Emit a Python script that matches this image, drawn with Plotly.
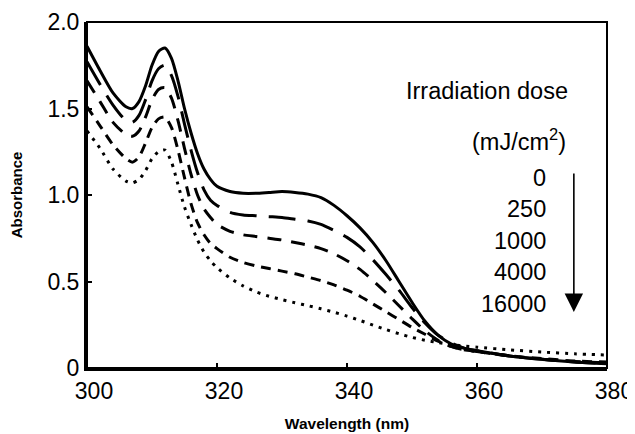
import plotly.graph_objects as go

wavelength = [300, 302, 304, 306, 307, 308, 309, 310, 311, 312, 313, 314, 315, 316, 317, 318, 319, 320,
              322, 324, 326, 328, 330, 332, 334, 336, 338, 340, 342, 344, 346, 348, 350, 352, 354, 356,
              358, 360, 365, 370, 375, 380]

abs_0 = [1.86, 1.72, 1.59, 1.51, 1.50, 1.54, 1.63, 1.75, 1.83, 1.85, 1.79, 1.66, 1.50, 1.36, 1.24, 1.15, 1.09, 1.05,
         1.02, 1.01, 1.01, 1.015, 1.02, 1.015, 1.005, 0.985, 0.94, 0.88, 0.81, 0.725, 0.62, 0.50, 0.38, 0.27, 0.19, 0.14,
         0.115, 0.10, 0.07, 0.05, 0.035, 0.025]
abs_250 = [1.77, 1.64, 1.52, 1.43, 1.42, 1.46, 1.55, 1.66, 1.73, 1.75, 1.69, 1.57, 1.41, 1.26, 1.13, 1.03, 0.97, 0.94,
           0.90, 0.885, 0.88, 0.875, 0.87, 0.86, 0.85, 0.83, 0.795, 0.755, 0.70, 0.625, 0.54, 0.45, 0.35, 0.26, 0.19, 0.145,
           0.115, 0.10, 0.07, 0.05, 0.035, 0.025]
abs_1000 = [1.66, 1.54, 1.42, 1.35, 1.34, 1.37, 1.45, 1.55, 1.61, 1.62, 1.56, 1.43, 1.27, 1.12, 1.00, 0.92, 0.87, 0.83,
            0.79, 0.77, 0.76, 0.75, 0.74, 0.725, 0.71, 0.69, 0.66, 0.62, 0.57, 0.505, 0.435, 0.36, 0.285, 0.215, 0.16, 0.125,
            0.105, 0.095, 0.07, 0.05, 0.038, 0.03]
abs_4000 = [1.51, 1.40, 1.29, 1.21, 1.19, 1.22, 1.30, 1.39, 1.44, 1.45, 1.39, 1.26, 1.10, 0.95, 0.84, 0.77, 0.72, 0.69,
            0.64, 0.61, 0.59, 0.575, 0.56, 0.545, 0.525, 0.505, 0.48, 0.45, 0.415, 0.37, 0.325, 0.28, 0.235, 0.195, 0.155, 0.125,
            0.105, 0.095, 0.07, 0.055, 0.04, 0.035]
abs_16000 = [1.37, 1.27, 1.15, 1.08, 1.07, 1.09, 1.14, 1.21, 1.25, 1.26, 1.19, 1.06, 0.93, 0.83, 0.74, 0.67, 0.62, 0.58,
             0.52, 0.475, 0.44, 0.415, 0.395, 0.377, 0.36, 0.342, 0.322, 0.30, 0.275, 0.248, 0.222, 0.198, 0.177, 0.16, 0.147, 0.136,
             0.127, 0.12, 0.105, 0.092, 0.082, 0.075]

doses = ["0", "250", "1000", "4000", "16000"]
series = [abs_0, abs_250, abs_1000, abs_4000, abs_16000]
dash_styles = ["solid", "27px,12px", "14px,10px", "10px,7px", "3px,6px"]

x_ticks = [300, 320, 340, 360, 380]
y_ticks = [0, 0.5, 1.0, 1.5, 2.0]
y_ticktext = ["0", "0.5", "1.0", "1.5", "2.0"]

FONT = "Liberation Sans, Arial, sans-serif"
TXT = 23.5

fig = go.Figure()
for name, vals, dash in zip(doses, series, dash_styles):
    fig.add_trace(go.Scatter(x=wavelength, y=vals, mode="lines", name=name,
                             line=dict(color="black", width=3, dash=dash, shape="spline", smoothing=0.7)))

# legend-like annotations
fig.add_annotation(x=374.3, y=1.60, xref="x", yref="y", text="Irradiation dose", showarrow=False,
                   xanchor="right", yanchor="middle", font=dict(size=TXT, color="black", family=FONT))
fig.add_annotation(x=374.0, y=1.318, xref="x", yref="y", text="(mJ/cm<sup>2</sup>)", showarrow=False,
                   xanchor="right", yanchor="middle", font=dict(size=TXT, color="black", family=FONT))
label_y = [1.098, 0.919, 0.734, 0.555, 0.370]
for d, yy in zip(doses, label_y):
    fig.add_annotation(x=370.9, y=yy, xref="x", yref="y", text=d, showarrow=False,
                       xanchor="right", yanchor="middle", font=dict(size=TXT, color="black", family=FONT))
fig.add_annotation(x=374.9, y=0.324, xref="x", yref="y", ax=374.9, ay=1.133, axref="x", ayref="y",
                   text="", showarrow=True, arrowhead=2, arrowsize=2.3, arrowwidth=1.6, arrowcolor="black")

# frame
fig.add_shape(type="rect", xref="x domain", yref="y domain", x0=0, x1=1, y0=0, y1=1,
              line=dict(color="black", width=2))

fig.update_xaxes(range=[300, 380], tickvals=x_ticks, ticks="inside", ticklen=5, tickwidth=2, tickcolor="black",
                 showline=True, linewidth=3, linecolor="black", showgrid=False, zeroline=False,
                 automargin=False, ticklabelshift=7,
                 tickfont=dict(size=23, color="black", family=FONT),
                 title=dict(text="<b>Wavelength (nm)</b>", font=dict(size=15.5, color="black", family=FONT), standoff=16))
fig.update_yaxes(range=[0, 2], tickvals=y_ticks, ticktext=y_ticktext, ticks="inside", ticklen=5, tickwidth=2,
                 tickcolor="black", showline=True, linewidth=3, linecolor="black", showgrid=False, zeroline=False,
                 automargin=False,
                 tickfont=dict(size=23, color="black", family=FONT),
                 title=dict(text="<b>Absorbance</b>", font=dict(size=15, color="black", family=FONT), standoff=24))

# page body has an 8px margin: shrink the figure so the plot area lands where the reference has it
fig.update_layout(width=627, height=426, margin=dict(l=79, r=28, t=14, b=66),
                  plot_bgcolor="white", paper_bgcolor="white", showlegend=False)

fig.write_html("out.html")
